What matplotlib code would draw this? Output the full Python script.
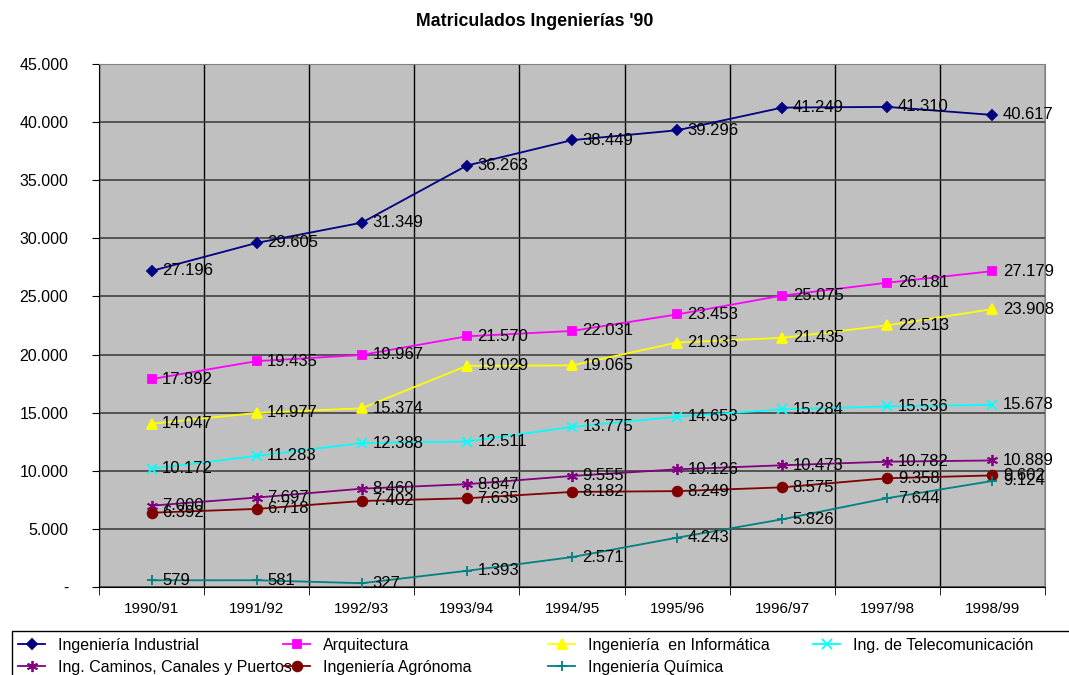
import matplotlib.pyplot as plt
from matplotlib.ticker import FuncFormatter, FixedLocator
from matplotlib.patches import Rectangle

plt.rcParams['font.family'] = ['Liberation Sans', 'DejaVu Sans']

# Chart data
years = ['1990/91', '1991/92', '1992/93', '1993/94', '1994/95',
         '1995/96', '1996/97', '1997/98', '1998/99']

industrial = [27196, 29605, 31349, 36263, 38449, 39296, 41249, 41310, 40617]
arquitectura = [17892, 19435, 19967, 21570, 22031, 23453, 25075, 26181, 27179]
informatica = [14047, 14977, 15374, 19029, 19065, 21035, 21435, 22513, 23908]
telecom = [10172, 11283, 12388, 12511, 13775, 14653, 15284, 15536, 15678]
caminos = [7000, 7697, 8460, 8847, 9555, 10126, 10473, 10782, 10889]
agronoma = [6392, 6718, 7402, 7635, 8182, 8249, 8575, 9358, 9602]
quimica = [579, 581, 327, 1393, 2571, 4243, 5826, 7644, 9124]

names = ['Ingeniería Industrial', 'Arquitectura', 'Ingeniería  en Informática',
         'Ing. de Telecomunicación', 'Ing. Caminos, Canales y Puertos',
         'Ingeniería Agrónoma', 'Ingeniería Química']
series = [industrial, arquitectura, informatica, telecom, caminos, agronoma, quimica]
colors = ['#000080', '#FF00FF', '#FFFF00', '#00FFFF', '#800080', '#800000', '#008080']
markers = ['D', 's', '^', 'x', (6, 2, 0), 'o', '+']
msizes = [5, 6, 7, 7, 8, 7, 7]


def miles(v, pos=None):
    if v == 0:
        return '-'
    return '{:,.0f}'.format(v).replace(',', '.')


W, H = 1069, 675
fig = plt.figure(figsize=(W / 100, H / 100), dpi=100)
ax = fig.add_axes([99 / W, 1 - 587 / H, 946 / W, 523 / H])
ax.set_facecolor('#C0C0C0')

x = list(range(len(years)))
handles = []
for vals, name, c, m, ms in zip(series, names, colors, markers, msizes):
    h, = ax.plot(x, vals, color=c, marker=m, markersize=ms, lw=1.3,
                 markeredgewidth=1.3, label=name, zorder=3)
    handles.append(h)
    for xi, v in zip(x, vals):
        ax.text(xi + 0.1, v, miles(v), fontsize=12, va='center', ha='left',
                color='black', zorder=4)

ax.set_xlim(-0.5, len(years) - 0.5)
ax.set_ylim(0, 45000)
ax.set_yticks(range(0, 45001, 5000))
ax.yaxis.set_major_formatter(FuncFormatter(miles))
ax.set_xticks(x)
ax.set_xticklabels(years)
ax.tick_params(axis='x', length=0, labelsize=11, pad=11)
ax.xaxis.set_minor_locator(FixedLocator([i + 0.5 for i in range(-1, len(years))]))
ax.tick_params(axis='x', which='minor', length=6, direction='out')
ax.tick_params(axis='y', length=5, direction='out', labelsize=11.5, pad=17)

ax.grid(axis='y', color='#404040', lw=1.2)
ax.grid(axis='x', which='minor', color='black', lw=1)
ax.set_axisbelow(True)
for s in ['top', 'right']:
    ax.spines[s].set_color('#808080')
for s in ['left', 'bottom']:
    ax.spines[s].set_color('black')

fig.text(0.5, 1 - 21 / H, "Matriculados Ingenierías '90", fontsize=12.8,
         fontweight='bold', ha='center', va='center')

# legend: frame plus one column legend per slot
fig.patches.append(Rectangle((12 / W, -0.02), 1.0, (675 - 631) / H + 0.02,
                             transform=fig.transFigure, facecolor='white',
                             edgecolor='black', lw=1, zorder=0))
cols = [[0, 4], [1, 5], [2, 6], [3]]
col_x = [18, 283, 548, 813]
for idx, cx in zip(cols, col_x):
    lg = fig.legend([handles[i] for i in idx], [names[i] for i in idx],
                    loc='upper left', bbox_to_anchor=(cx / W, 1 - 638 / H),
                    frameon=False, fontsize=11.5, borderpad=0, labelspacing=0.42,
                    handlelength=1.7, handletextpad=0.8, borderaxespad=0)

fig.savefig('out.png', dpi=100)
